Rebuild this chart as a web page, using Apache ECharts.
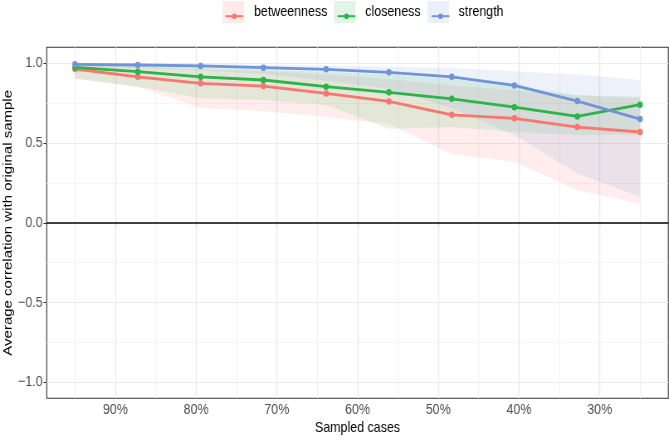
<!DOCTYPE html>
<html><head><meta charset="utf-8">
<script src="https://cdn.jsdelivr.net/npm/echarts@6/dist/echarts.min.js"></script>
<style>
html,body{margin:0;padding:0;background:#fff;overflow:hidden;width:669px;height:436px}
#c{width:806px;height:436px;transform:scaleX(0.83);transform-origin:0 0;}
</style>
</head><body><div id="c"></div>
<script>
// ---- data ----
const sampled = [95, 87.22, 79.44, 71.67, 63.89, 56.11, 48.33, 40.56, 32.78, 25];
const seriesNames = ['betweenness', 'closeness', 'strength'];
const betweenness      = [0.964, 0.915, 0.874, 0.857, 0.811, 0.761, 0.677, 0.655, 0.600, 0.569];
const betweennessLower = [0.905, 0.853, 0.720, 0.700, 0.665, 0.620, 0.430, 0.383, 0.205, 0.121];
const betweennessUpper = [0.990, 0.975, 0.960, 0.950, 0.930, 0.900, 0.860, 0.830, 0.800, 0.780];
const closeness        = [0.974, 0.947, 0.915, 0.895, 0.853, 0.818, 0.777, 0.725, 0.667, 0.740];
const closenessLower   = [0.905, 0.853, 0.780, 0.770, 0.738, 0.590, 0.600, 0.570, 0.550, 0.550];
const closenessUpper   = [0.995, 0.985, 0.975, 0.960, 0.945, 0.930, 0.900, 0.860, 0.800, 0.790];
const strength         = [0.993, 0.989, 0.983, 0.972, 0.962, 0.943, 0.915, 0.861, 0.763, 0.650];
const strengthLower    = [0.980, 0.970, 0.955, 0.935, 0.890, 0.840, 0.720, 0.550, 0.310, 0.163];
const strengthUpper    = [1.000, 0.998, 0.995, 0.990, 0.985, 0.978, 0.970, 0.950, 0.930, 0.895];
const xTicks = [30, 40, 50, 60, 70, 80, 90];
const xMinorTicks = [25, 35, 45, 55, 65, 75, 85, 95];
const yTicks = [-1, -0.5, 0, 0.5, 1];
const yMinorTicks = [-0.75, -0.25, 0.25, 0.75];

// ---- styles ----
const FONT = "'Liberation Sans', Arial, Helvetica, sans-serif";
const lineColors = ['#F8766D', '#2DB34A', '#6F94D8'];
const bandColors = ['rgba(248,118,109,0.13)', 'rgba(45,179,74,0.12)', 'rgba(111,148,216,0.13)'];
const keyColors = ['rgba(248,118,109,0.15)', 'rgba(45,179,74,0.14)', 'rgba(111,148,216,0.15)'];

const means = [betweenness, closeness, strength];
const lowers = [betweennessLower, closenessLower, strengthLower];
const uppers = [betweennessUpper, closenessUpper, strengthUpper];

const pairs = arr => sampled.map((x, i) => [x, arr[i]]);

const gridLines = [];
xMinorTicks.forEach(v => gridLines.push({xAxis: v, lineStyle: {color: '#F2F2F2', width: 1.0, type: 'solid'}}));
yMinorTicks.forEach(v => gridLines.push({yAxis: v, lineStyle: {color: '#F2F2F2', width: 0.8, type: 'solid'}}));
xTicks.forEach(v => gridLines.push({xAxis: v, lineStyle: {color: '#EBEBEB', width: 1.4, type: 'solid'}}));
yTicks.filter(v => v !== 0).forEach(v => gridLines.push({yAxis: v, lineStyle: {color: '#EBEBEB', width: 1.1, type: 'solid'}}));

const series = [];
seriesNames.forEach((n, k) => {
  const lo = lowers[k], hi = uppers[k];
  series.push({
    type: 'custom', name: n + ' band', silent: true, z: 2, animation: false,
    data: sampled.map((x, i) => [x, lo[i], hi[i]]),
    encode: {x: 0, y: [1, 2]},
    renderItem: function (params, api) {
      if (params.dataIndex !== 0) return null;
      const pts = [];
      for (let i = 0; i < sampled.length; i++) pts.push(api.coord([sampled[i], hi[i]]));
      for (let i = sampled.length - 1; i >= 0; i--) pts.push(api.coord([sampled[i], lo[i]]));
      return {type: 'polygon', shape: {points: pts}, style: {fill: bandColors[k], stroke: null}, silent: true};
    }
  });
});
seriesNames.forEach((n, k) => {
  const s = {
    type: 'line', name: n, data: pairs(means[k]), color: lineColors[k],
    symbol: 'circle', symbolSize: 6.5, showSymbol: true,
    lineStyle: {width: 2.8, color: lineColors[k]}, itemStyle: {color: lineColors[k]},
    z: 3, animation: false
  };
  if (k === 0) {
    s.markLine = {
      z: 1, silent: true, symbol: ['none', 'none'], label: {show: false}, animation: false,
      emphasis: {disabled: true}, data: gridLines
    };
  }
  if (k === 1) {
    s.markLine = {
      z: 4, silent: true, symbol: ['none', 'none'], label: {show: false}, animation: false,
      emphasis: {disabled: true},
      data: [{yAxis: 0, lineStyle: {color: '#000', width: 1.6, type: 'solid'}}]
    };
  }
  series.push(s);
});

const option = {
  backgroundColor: '#fff',
  animation: false,
  textStyle: {fontFamily: FONT},
  grid: {left: 56.3, right: 0.8, top: 47.3, bottom: 37.7, containLabel: false, outerBoundsMode: 'none',
         show: true, borderColor: '#333', borderWidth: 1.1, backgroundColor: 'transparent'},
  legend: [
    {
      data: seriesNames.map((n, i) => ({name: n, icon: 'rect', itemStyle: {color: keyColors[i], borderWidth: 0}})),
      left: 268.3, top: 1, itemWidth: 26, itemHeight: 22, itemGap: 8, padding: 0, selectedMode: false,
      textStyle: {fontFamily: FONT, fontSize: 15, color: '#000', padding: [0, 0, 0, 6.7]}
    },
    {
      data: seriesNames, left: 270.65, top: 8.7, itemWidth: 21.3, itemHeight: 7, itemGap: 10.35, padding: 0,
      selectedMode: false,
      textStyle: {fontFamily: FONT, fontSize: 15, color: 'rgba(0,0,0,0)', padding: [0, 0, 0, 9.05]}
    }
  ],
  xAxis: {
    type: 'value', inverse: true, min: 21.5, max: 98.5,
    axisLine: {show: false},
    axisTick: {show: true, customValues: xTicks, length: 3.5, lineStyle: {color: '#333', width: 1.2}},
    axisLabel: {customValues: xTicks, formatter: v => v + '%', fontSize: 15, color: '#4D4D4D', margin: 4, fontFamily: FONT},
    splitLine: {show: false},
    name: 'Sampled cases', nameLocation: 'middle', nameGap: 22, nameMoveOverlap: false,
    nameTextStyle: {fontSize: 15, color: '#000', fontFamily: FONT}
  },
  yAxis: {
    type: 'value', min: -1.1, max: 1.1,
    axisLine: {show: false},
    axisTick: {show: true, customValues: yTicks, length: 3.9, lineStyle: {color: '#333', width: 1}},
    axisLabel: {customValues: yTicks, formatter: v => (v < 0 ? '\u2212' : '') + Math.abs(v).toFixed(1), fontSize: 15, color: '#4D4D4D', margin: 5, fontFamily: FONT},
    splitLine: {show: false},
    name: 'Average correlation with original sample', nameLocation: 'middle', nameGap: 39, nameMoveOverlap: false,
    nameTextStyle: {fontSize: 15, color: '#000', fontFamily: FONT}
  },
  series: series
};

const chart = echarts.init(document.getElementById('c'), null, {renderer: 'canvas', width: 806, height: 436});
chart.setOption(option);
</script>
</body></html>
